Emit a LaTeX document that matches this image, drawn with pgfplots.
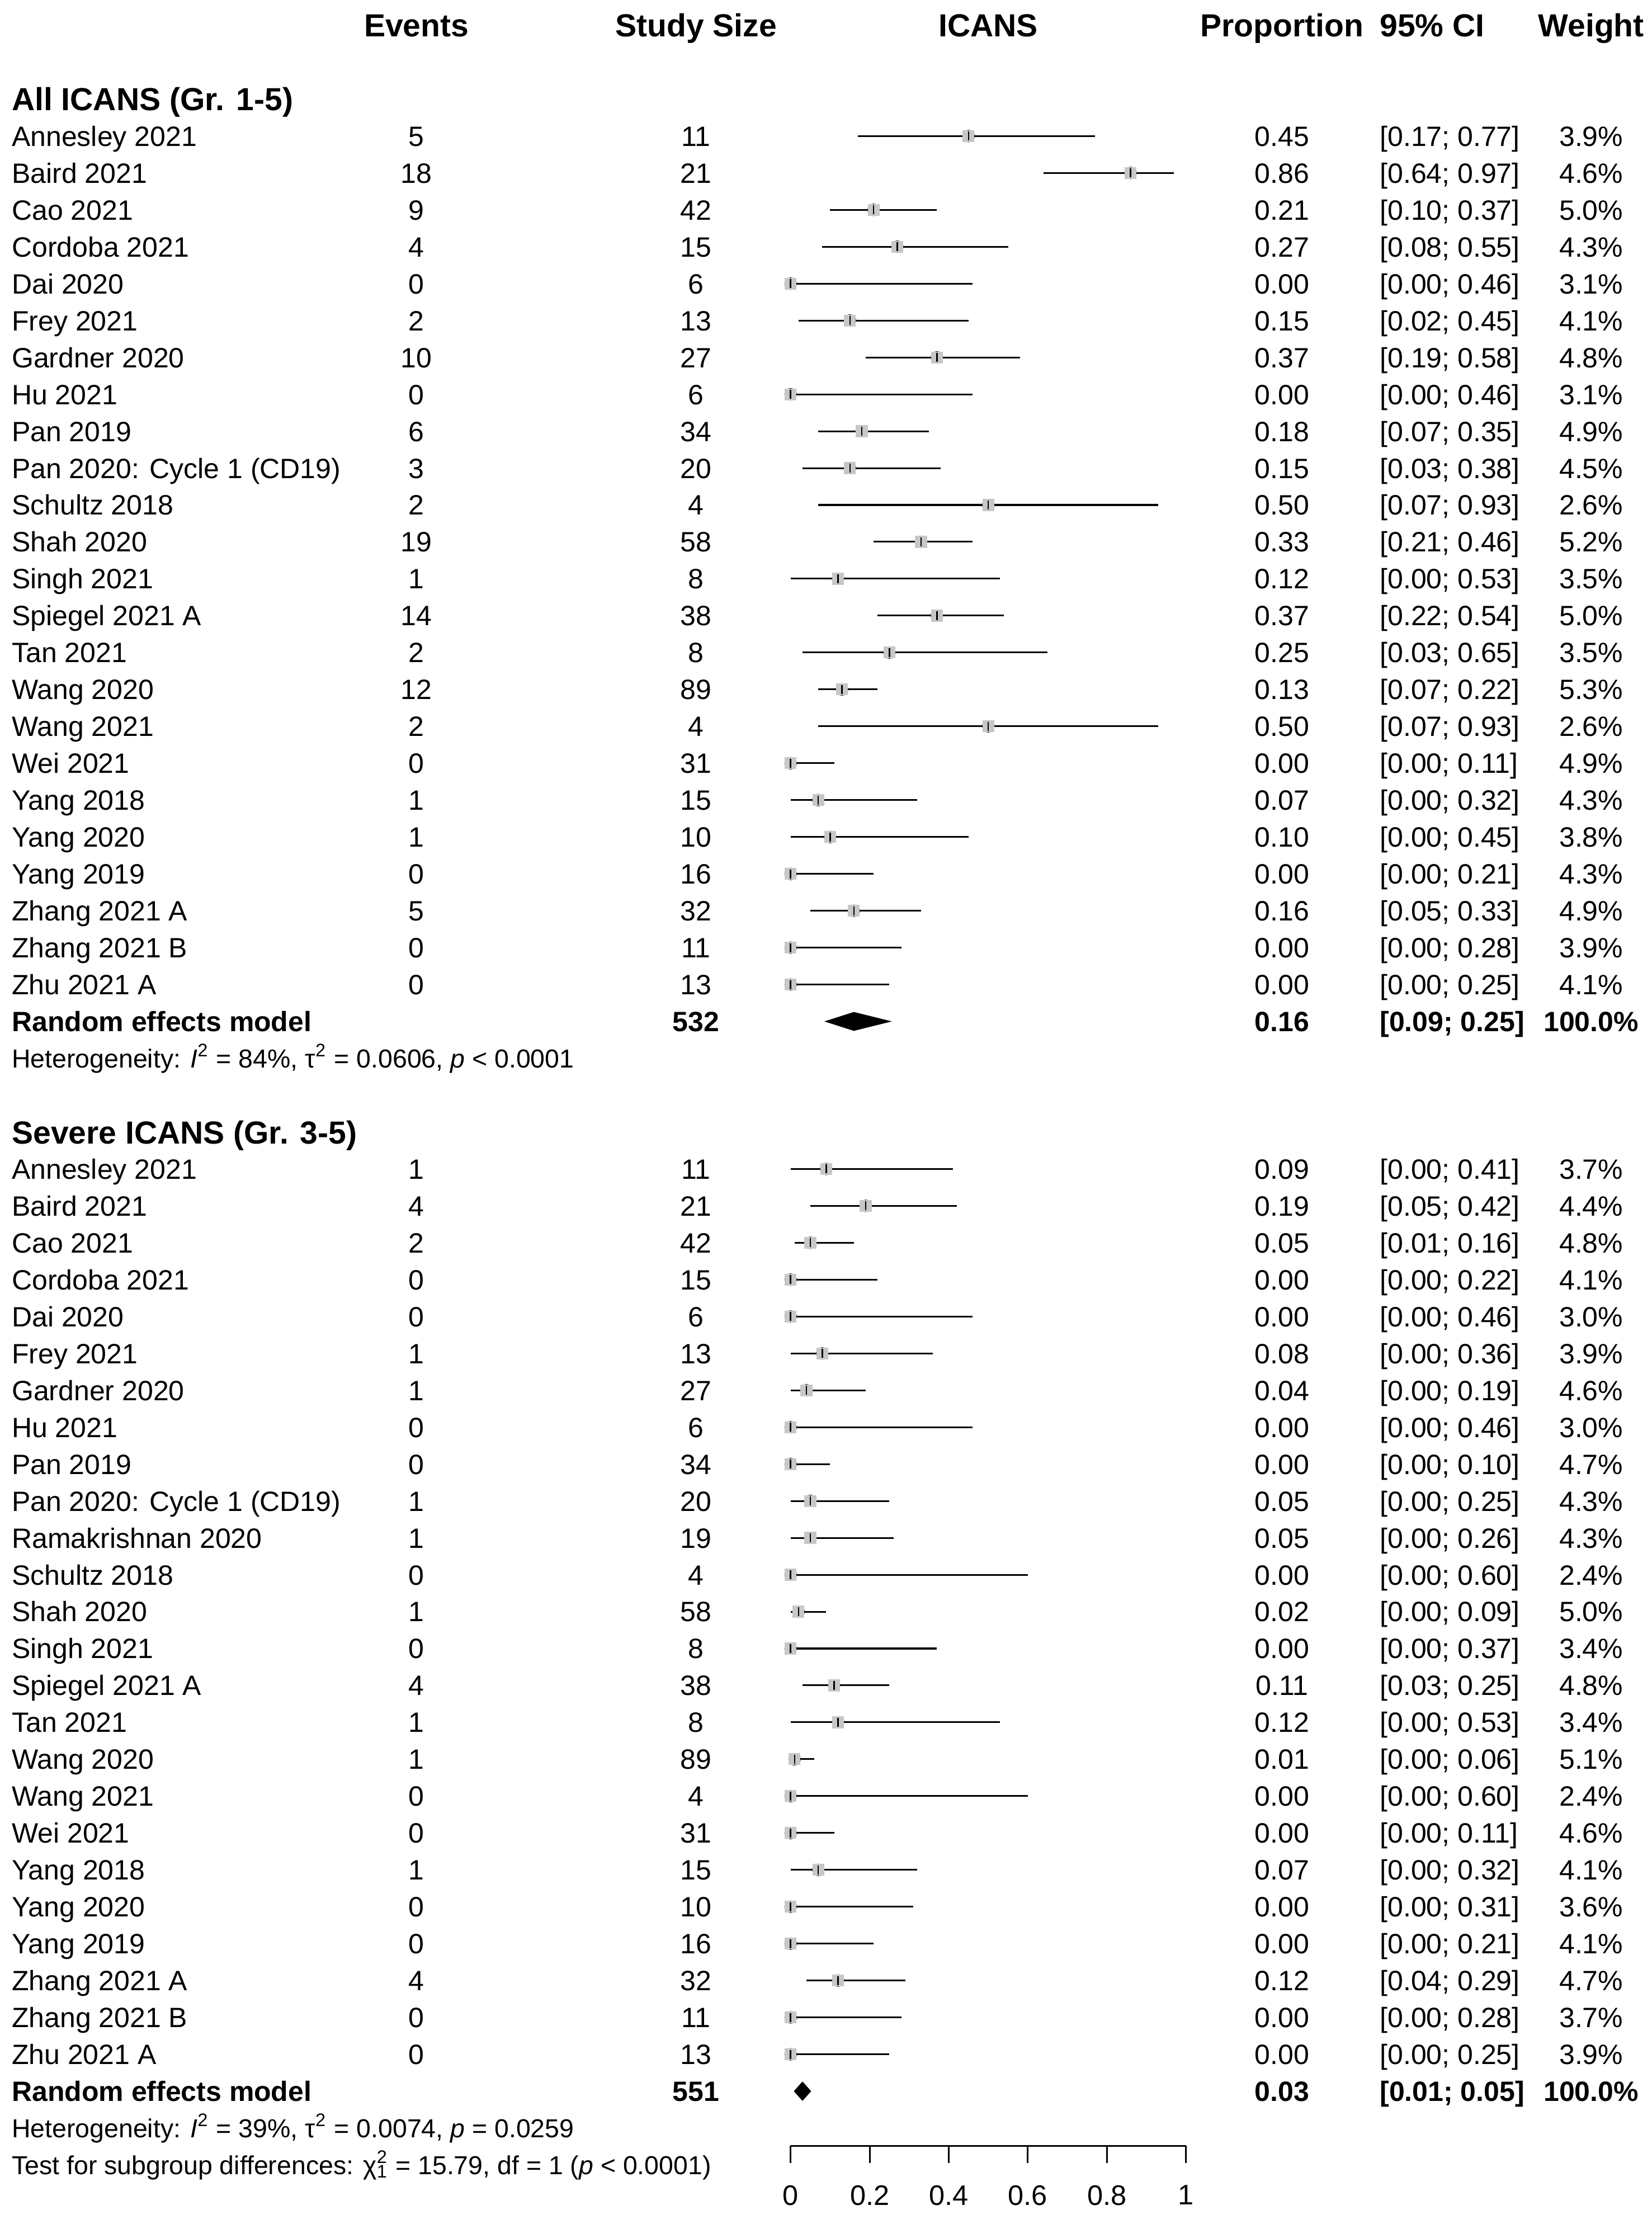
\documentclass[border=0pt]{standalone}
\usepackage{pgfplots}
\usepackage{pgfplotstable}
\usepackage{fontspec}
\setmainfont{Liberation Sans}
\pgfplotsset{compat=1.18}
\pgfkeys{/pgf/number format/assume math mode=true}

% row, study, events, total, proportion, CI low, CI high, weight (%)
\pgfplotstableread[col sep=comma,row sep=\\]{
row,study,events,n,prop,lo,hi,w\\
3,Annesley 2021,5,11,0.45,0.17,0.77,3.9\\
4,Baird 2021,18,21,0.86,0.64,0.97,4.6\\
5,Cao 2021,9,42,0.21,0.10,0.37,5.0\\
6,Cordoba 2021,4,15,0.27,0.08,0.55,4.3\\
7,Dai 2020,0,6,0.00,0.00,0.46,3.1\\
8,Frey 2021,2,13,0.15,0.02,0.45,4.1\\
9,Gardner 2020,10,27,0.37,0.19,0.58,4.8\\
10,Hu 2021,0,6,0.00,0.00,0.46,3.1\\
11,Pan 2019,6,34,0.18,0.07,0.35,4.9\\
12,Pan 2020: Cycle 1 (CD19),3,20,0.15,0.03,0.38,4.5\\
13,Schultz 2018,2,4,0.50,0.07,0.93,2.6\\
14,Shah 2020,19,58,0.33,0.21,0.46,5.2\\
15,Singh 2021,1,8,0.12,0.00,0.53,3.5\\
16,Spiegel 2021 A,14,38,0.37,0.22,0.54,5.0\\
17,Tan 2021,2,8,0.25,0.03,0.65,3.5\\
18,Wang 2020,12,89,0.13,0.07,0.22,5.3\\
19,Wang 2021,2,4,0.50,0.07,0.93,2.6\\
20,Wei 2021,0,31,0.00,0.00,0.11,4.9\\
21,Yang 2018,1,15,0.07,0.00,0.32,4.3\\
22,Yang 2020,1,10,0.10,0.00,0.45,3.8\\
23,Yang 2019,0,16,0.00,0.00,0.21,4.3\\
24,Zhang 2021 A,5,32,0.16,0.05,0.33,4.9\\
25,Zhang 2021 B,0,11,0.00,0.00,0.28,3.9\\
26,Zhu 2021 A,0,13,0.00,0.00,0.25,4.1\\
}\allicans

\pgfplotstableread[col sep=comma,row sep=\\]{
row,study,events,n,prop,lo,hi,w\\
31,Annesley 2021,1,11,0.09,0.00,0.41,3.7\\
32,Baird 2021,4,21,0.19,0.05,0.42,4.4\\
33,Cao 2021,2,42,0.05,0.01,0.16,4.8\\
34,Cordoba 2021,0,15,0.00,0.00,0.22,4.1\\
35,Dai 2020,0,6,0.00,0.00,0.46,3.0\\
36,Frey 2021,1,13,0.08,0.00,0.36,3.9\\
37,Gardner 2020,1,27,0.04,0.00,0.19,4.6\\
38,Hu 2021,0,6,0.00,0.00,0.46,3.0\\
39,Pan 2019,0,34,0.00,0.00,0.10,4.7\\
40,Pan 2020: Cycle 1 (CD19),1,20,0.05,0.00,0.25,4.3\\
41,Ramakrishnan 2020,1,19,0.05,0.00,0.26,4.3\\
42,Schultz 2018,0,4,0.00,0.00,0.60,2.4\\
43,Shah 2020,1,58,0.02,0.00,0.09,5.0\\
44,Singh 2021,0,8,0.00,0.00,0.37,3.4\\
45,Spiegel 2021 A,4,38,0.11,0.03,0.25,4.8\\
46,Tan 2021,1,8,0.12,0.00,0.53,3.4\\
47,Wang 2020,1,89,0.01,0.00,0.06,5.1\\
48,Wang 2021,0,4,0.00,0.00,0.60,2.4\\
49,Wei 2021,0,31,0.00,0.00,0.11,4.6\\
50,Yang 2018,1,15,0.07,0.00,0.32,4.1\\
51,Yang 2020,0,10,0.00,0.00,0.31,3.6\\
52,Yang 2019,0,16,0.00,0.00,0.21,4.1\\
53,Zhang 2021 A,4,32,0.12,0.04,0.29,4.7\\
54,Zhang 2021 B,0,11,0.00,0.00,0.28,3.7\\
55,Zhu 2021 A,0,13,0.00,0.00,0.25,3.9\\
}\severe

\newcommand{\bodyfont}{\fontsize{9.9}{11}\selectfont}
\newcommand{\headfont}{\fontsize{11.3}{13}\selectfont\bfseries}
\newcommand{\hetfont}{\fontsize{9.2}{11}\selectfont}

% text placed on the row line: baseline lowered by about half a cap height
\tikzset{
  body/.style={font=\bodyfont, anchor=base, yshift=-3.56pt, inner sep=0pt},
  bodyw/.style={body, anchor=base west},
  head/.style={font=\headfont, anchor=base, yshift=-4.07pt, inner sep=0pt},
  headw/.style={head, anchor=base west},
  het/.style={font=\hetfont, anchor=base west, yshift=-3.3pt, inner sep=0pt},
}

% text columns, CIs and point estimates of one subgroup
\newcommand{\studyrows}[1]{%
  \addplot[txtw, point meta=explicit symbolic] table[x expr=-1.9714, y=row, meta=study] {#1};
  \addplot[txt, point meta=explicit symbolic] table[x expr=-0.9464, y=row, meta=events] {#1};
  \addplot[txt, point meta=explicit symbolic] table[x expr=-0.2393, y=row, meta=n] {#1};
  \addplot[txt, point meta=explicit, nodes near coords={\pgfmathprintnumber[fixed,fixed zerofill,precision=2]{\pgfplotspointmeta}}]
    table[x expr=1.2429, y=row, meta=prop] {#1};
  \addplot[txtw, visualization depends on={\thisrow{lo} \as \cilo},
    visualization depends on={\thisrow{hi} \as \cihi},
    nodes near coords={[\pgfmathprintnumber[fixed,fixed zerofill,precision=2]{\cilo}; \pgfmathprintnumber[fixed,fixed zerofill,precision=2]{\cihi}]}]
    table[x expr=1.4893, y=row] {#1};
  \addplot[txt, point meta=explicit, nodes near coords={\pgfmathprintnumber[fixed,fixed zerofill,precision=1]{\pgfplotspointmeta}\%}]
    table[x expr=2.025, y=row, meta=w] {#1};
  \addplot[ci] table[x=prop, y=row,
    x error minus expr=\thisrow{prop}-\thisrow{lo},
    x error plus expr=\thisrow{hi}-\thisrow{prop}] {#1};
  \addplot[box] table[x=prop, y=row] {#1};
  \addplot[tick] table[x=prop, y=row] {#1};
}

\begin{document}
\begin{tikzpicture}
\begin{axis}[
  scale only axis,
  width=585pt, height=784.5pt,
  xmin=-2, xmax=2.17857,
  ymin=-0.6889, ymax=59.357,
  y dir=reverse,
  hide axis, clip=false,
  txt/.style={only marks, mark=none, nodes near coords,
    every node near coord/.append style={body, text=black}},
  txtw/.style={txt, every node near coord/.append style={anchor=base west}},
  ci/.style={only marks, mark=none,
    error bars/.cd, x dir=both, x explicit, error mark=none,
    error bar style={draw=black, line width=0.6pt}},
  % grey square, its area following the study weight
  box/.style={scatter, only marks, mark=square*, color=black!22,
    mark options={draw=black!22, fill=black!22, line width=0pt},
    visualization depends on={0.608*sqrt(\thisrow{w}) \as \msz},
    scatter/@pre marker code/.append style={/tikz/mark size=\msz pt},
    scatter/use mapped color={draw=black!22, fill=black!22}},
  tick/.style={only marks, mark=|, mark size=1.6pt, color=black, mark options={line width=0.5pt}},
]
\path (rel axis cs:0,0) rectangle (rel axis cs:1,1);

% header
\node[head] at (axis cs:-0.9464,0) {Events};
\node[head] at (axis cs:-0.2393,0) {Study Size};
\node[head] at (axis cs:0.5,0) {ICANS};
\node[head] at (axis cs:1.2429,0) {Proportion};
\node[headw] at (axis cs:1.4893,0) {95\% CI};
\node[head] at (axis cs:2.025,0) {Weight};

\node[headw] at (axis cs:-1.9714,2) {All ICANS (Gr. 1-5)};
\node[headw] at (axis cs:-1.9714,30) {Severe ICANS (Gr. 3-5)};

\studyrows{\allicans}
\studyrows{\severe}

% pooled estimates
\addplot[fill=black, draw=black] coordinates {(0.09,27) (0.16,26.76) (0.25,27) (0.16,27.24)} -- cycle;
\addplot[fill=black, draw=black] coordinates {(0.01,56) (0.03,55.76) (0.05,56) (0.03,56.24)} -- cycle;

\node[bodyw, font=\bodyfont\bfseries] at (axis cs:-1.9714,27) {Random effects model};
\node[body, font=\bodyfont\bfseries] at (axis cs:-0.2393,27) {532};
\node[body, font=\bodyfont\bfseries] at (axis cs:1.2429,27) {0.16};
\node[bodyw, font=\bodyfont\bfseries] at (axis cs:1.4893,27) {[0.09; 0.25]};
\node[body, font=\bodyfont\bfseries] at (axis cs:2.025,27) {100.0\%};
\node[het] at (axis cs:-1.9714,28)
  {Heterogeneity: {\itshape I}\textsuperscript{2} = 84\%, τ\textsuperscript{2} = 0.0606, {\itshape p} < 0.0001};

\node[bodyw, font=\bodyfont\bfseries] at (axis cs:-1.9714,56) {Random effects model};
\node[body, font=\bodyfont\bfseries] at (axis cs:-0.2393,56) {551};
\node[body, font=\bodyfont\bfseries] at (axis cs:1.2429,56) {0.03};
\node[bodyw, font=\bodyfont\bfseries] at (axis cs:1.4893,56) {[0.01; 0.05]};
\node[body, font=\bodyfont\bfseries] at (axis cs:2.025,56) {100.0\%};
\node[het] at (axis cs:-1.9714,57)
  {Heterogeneity: {\itshape I}\textsuperscript{2} = 39\%, τ\textsuperscript{2} = 0.0074, {\itshape p} = 0.0259};
\node[het] at (axis cs:-1.9714,58)
  {Test for subgroup differences: χ\rlap{\textsuperscript{2}}\textsubscript{1} = 15.79, df = 1 ({\itshape p} < 0.0001)};

% x scale
\draw[line width=0.6pt] (axis cs:0,57.48) -- (axis cs:1,57.48);
\pgfplotsinvokeforeach{0,0.2,0.4,0.6,0.8,1}{
  \draw[line width=0.6pt] (axis cs:#1,57.48) -- (axis cs:#1,57.94);
  \node[font=\fontsize{10}{12}\selectfont] at (axis cs:#1,58.82) {#1};
}
\end{axis}
\end{tikzpicture}
\end{document}
